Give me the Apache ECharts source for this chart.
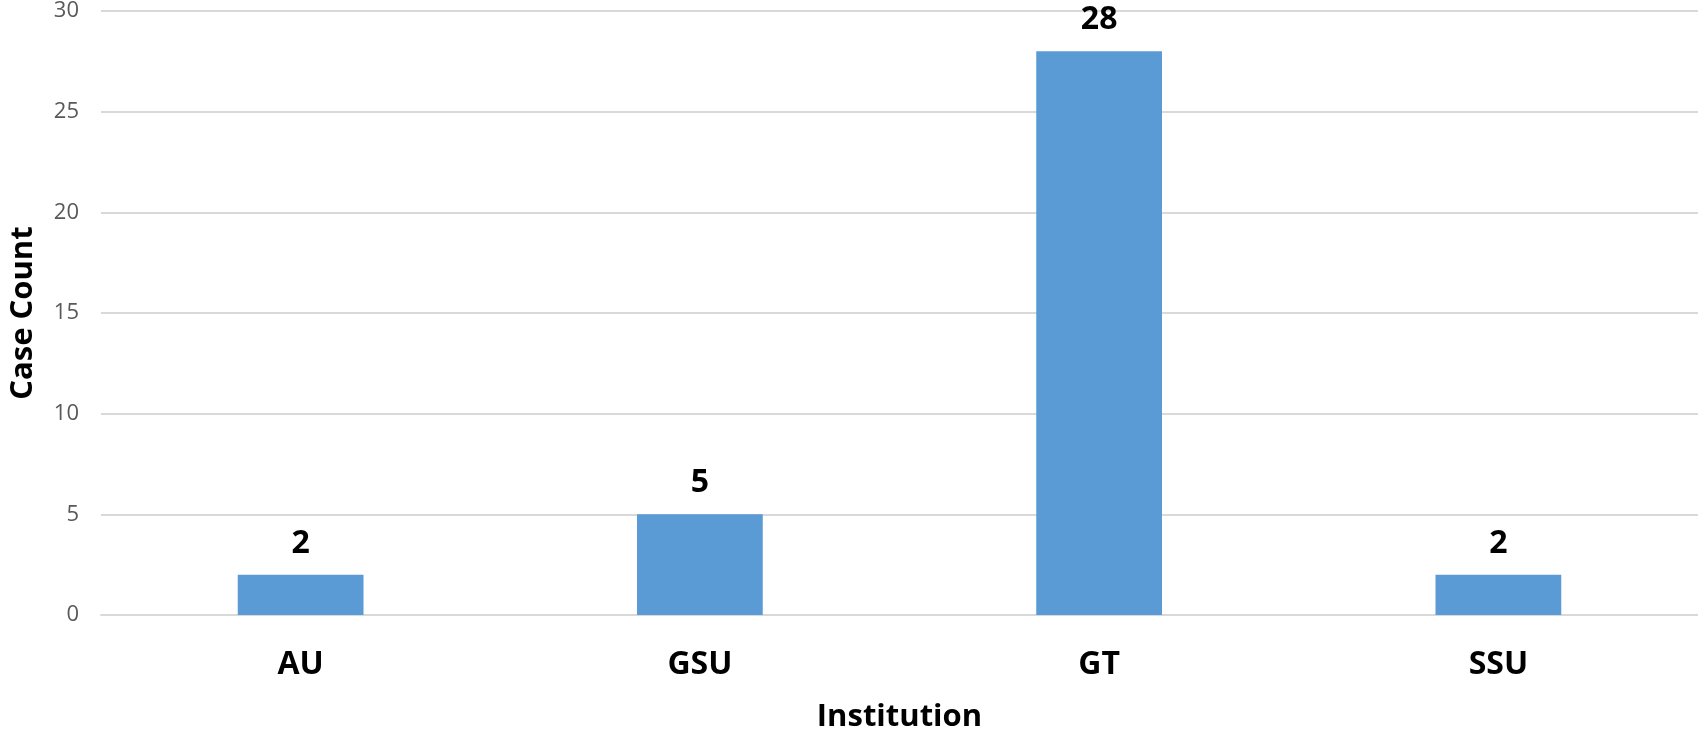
<!DOCTYPE html>
<html><head><meta charset="utf-8">
<script src="https://cdn.jsdelivr.net/npm/echarts@6/dist/echarts.min.js"></script>
<style>html,body{margin:0;padding:0;background:#fff}#c{width:1698px;height:738px}</style>
</head><body><div id="c"></div>
<script>
const categories = ["AU", "GSU", "GT", "SSU"];
const caseCounts = [2, 5, 28, 2];
const yTicks = {min: 0, max: 30, interval: 5};

const chart = echarts.init(document.getElementById('c'));
const F = '"Open Sans", sans-serif';
chart.setOption({
  animation: false,
  grid: {left: 98, right: 0, top: 10, bottom: 116},
  xAxis: {
    type: 'category', data: categories,
    name: 'Institution', nameLocation: 'middle', nameGap: 87,
    nameTextStyle: {fontFamily: F, fontWeight: 'bold', fontSize: 31, color: '#000'},
    axisLine: {lineStyle: {color: '#d9d9d9', width: 2}},
    axisTick: {show: false},
    axisLabel: {fontFamily: F, fontWeight: 'bold', fontSize: 32, color: '#000', margin: 34}
  },
  yAxis: {
    type: 'value', min: yTicks.min, max: yTicks.max, interval: yTicks.interval,
    name: 'Case Count', nameLocation: 'middle', nameGap: 62,
    nameTextStyle: {fontFamily: F, fontWeight: 'bold', fontSize: 31, color: '#000'},
    axisLine: {show: false}, axisTick: {show: false},
    splitLine: {lineStyle: {color: '#d9d9d9', width: 2}},
    axisLabel: {fontFamily: F, fontSize: 22, color: '#595959', margin: 22}
  },
  series: [{
    type: 'bar', data: caseCounts, barWidth: '31.5%',
    itemStyle: {color: '#5b9bd5'},
    label: {show: true, position: 'top', distance: 15, fontFamily: F, fontWeight: 'bold', fontSize: 32, color: '#000'}
  }]
});
</script></body></html>
